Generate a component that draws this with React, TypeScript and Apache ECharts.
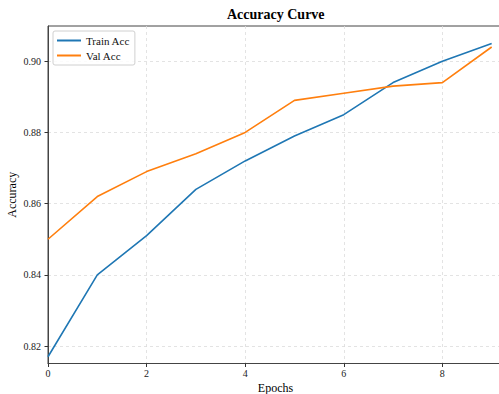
import React, { useEffect, useRef } from "react";
import * as echarts from "echarts";

const epochs = [0, 1, 2, 3, 4, 5, 6, 7, 8, 9];
const trainAcc = [0.817, 0.84, 0.851, 0.864, 0.872, 0.879, 0.885, 0.894, 0.9, 0.905];
const valAcc = [0.85, 0.862, 0.869, 0.874, 0.88, 0.889, 0.891, 0.893, 0.894, 0.904];
const xTicks = [0, 2, 4, 6, 8];
const yTicks = [0.82, 0.84, 0.86, 0.88, 0.9];

const FONT = "Liberation Serif";

export default function App() {
  const ref = useRef<HTMLDivElement>(null);
  useEffect(() => {
    if (!ref.current) return;
    const chart = echarts.init(ref.current, null, { renderer: "svg" });
    const grid = { color: "#dcdcdc", type: [3, 3] as any, width: 0.8 };
    chart.setOption({
      animation: false,
      backgroundColor: "#fff",
      textStyle: { fontFamily: FONT },
      title: {
        text: "Accuracy Curve",
        left: 227,
        top: 7,
        padding: 0,
        textStyle: { fontFamily: FONT, fontSize: 14, fontWeight: "bold", color: "#000" },
      },
      legend: {
        orient: "vertical",
        left: 53,
        top: 31,
        padding: [3, 5, 3, 4],
        itemGap: 2,
        itemWidth: 24,
        itemHeight: 2,
        itemTextGap: 8,
        icon: "rect",
        borderColor: "#d0d0d0",
        borderWidth: 1,
        borderRadius: 2,
        backgroundColor: "rgba(255,255,255,0.85)",
        textStyle: { fontFamily: FONT, fontSize: 11, color: "#111", lineHeight: 13 },
        data: ["Train Acc", "Val Acc"],
      },
      grid: {
        left: 48,
        top: 26,
        width: 455,
        height: 337.5,
        outerBoundsMode: "none",
        containLabel: false,
        show: true,
        borderColor: "#444",
        borderWidth: 1,
        backgroundColor: "transparent",
      },
      xAxis: {
        type: "value",
        min: 0,
        max: 9.23,
        name: "Epochs",
        nameLocation: "middle",
        nameGap: 18,
        nameMoveOverlap: false,
        nameTextStyle: { fontFamily: FONT, fontSize: 12, color: "#000" },
        axisLine: { show: true, lineStyle: { color: "#444", width: 1 } },
        axisTick: { show: true, inside: false, length: 3.5, customValues: xTicks, lineStyle: { color: "#333" } },
        axisLabel: {
          customValues: xTicks,
          margin: 5,
          fontFamily: FONT,
          fontSize: 10,
          color: "#222",
          formatter: (v: number) => String(v),
        },
        splitLine: { show: true, lineStyle: grid },
      },
      yAxis: {
        type: "value",
        min: 0.8151,
        max: 0.9099,
        name: "Accuracy",
        nameLocation: "middle",
        nameGap: 30,
        nameMoveOverlap: false,
        nameTextStyle: { fontFamily: FONT, fontSize: 12, color: "#000" },
        axisLine: { show: true, lineStyle: { color: "#444", width: 1 } },
        axisTick: { show: true, inside: false, length: 3.5, customValues: yTicks, lineStyle: { color: "#333" } },
        axisLabel: {
          customValues: yTicks,
          margin: 7,
          fontFamily: FONT,
          fontSize: 10,
          color: "#222",
          formatter: (v: number) => v.toFixed(2),
        },
        splitLine: { show: true, lineStyle: grid },
      },
      series: [
        {
          name: "Train Acc",
          type: "line",
          data: epochs.map((e, i) => [e, trainAcc[i]]),
          symbol: "none",
          itemStyle: { color: "#1f77b4" },
          lineStyle: { color: "#1f77b4", width: 1.6 },
        },
        {
          name: "Val Acc",
          type: "line",
          data: epochs.map((e, i) => [e, valAcc[i]]),
          symbol: "none",
          itemStyle: { color: "#ff7f0e" },
          lineStyle: { color: "#ff7f0e", width: 1.6 },
        },
      ],
    });
    return () => chart.dispose();
  }, []);
  return (
    <div
      ref={ref}
      style={{ position: "fixed", left: 0, top: 0, width: 499, height: 394, background: "#fff" }}
    />
  );
}
